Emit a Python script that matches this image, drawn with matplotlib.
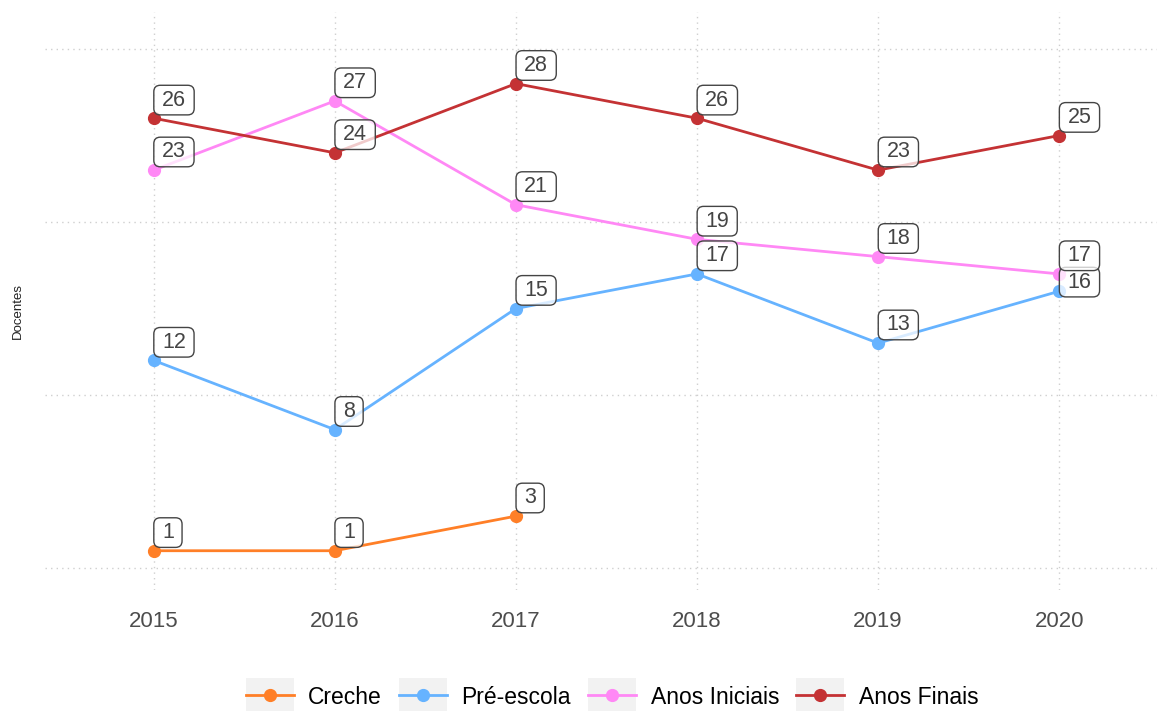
import numpy as np
import matplotlib
matplotlib.use('Agg')
import matplotlib.pyplot as plt
from matplotlib.legend_handler import HandlerLine2D
from matplotlib.patches import Rectangle, BoxStyle

plt.rcParams['font.family'] = ['Liberation Sans', 'DejaVu Sans']

# Teachers per stage, by year (NaN = no teachers that year)
years = [2015, 2016, 2017, 2018, 2019, 2020]
creche = [1, 1, 3, np.nan, np.nan, np.nan]
pre_escola = [12, 8, 15, 17, 13, 16]
anos_iniciais = [23, 27, 21, 19, 18, 17]
anos_finais = [26, 24, 28, 26, 23, 25]

series_names = ['Creche', 'Pré-escola', 'Anos Iniciais', 'Anos Finais']
series_values = [creche, pre_escola, anos_iniciais, anos_finais]
colors = ['#ff7f27', '#66b3ff', '#ff88f5', '#c43234']

# label offsets (points) where the default spot would overlap
label_nudge = {('Pré-escola', 2020): (6, -1)}


class RoundXY:
    # rounded label box with separate horizontal / vertical padding
    def __init__(self, padx=0.38, pady=0.2, rounding=0.3):
        self.padx, self.pady = padx, pady
        self.inner = BoxStyle.Round(pad=0, rounding_size=rounding)

    def __call__(self, x0, y0, width, height, mutation_size):
        px = self.padx * mutation_size
        py = self.pady * mutation_size
        return self.inner(x0 - px, y0 - py, width + 2 * px, height + 2 * py,
                          mutation_size)


class HandlerKeyBg(HandlerLine2D):
    # legend key with a light grey background square, ggplot style
    def create_artists(self, legend, orig_handle, xdescent, ydescent,
                       width, height, fontsize, trans):
        bg = Rectangle((-xdescent, -ydescent - 0.5 * height), width, 2 * height,
                       facecolor='#f2f2f2', edgecolor='none', transform=trans)
        artists = super().create_artists(legend, orig_handle, xdescent, ydescent,
                                         width, height, fontsize, trans)
        return [bg] + artists


fig = plt.figure(figsize=(11.57, 7.11), dpi=100)
ax = fig.add_axes([45 / 1157, 1 - 590 / 711, 1112 / 1157, 578 / 711])

for name, vals, col in zip(series_names, series_values, colors):
    ax.plot(years, vals, color=col, lw=2.0, marker='o', ms=8.5,
            label=name, zorder=3)

for name, vals, col in zip(series_names, series_values, colors):
    for x, v in zip(years, vals):
        if np.isnan(v):
            continue
        dx, dy = label_nudge.get((name, x), (6, 5.5))
        ax.annotate(f'{int(v)}', (x, v), xytext=(dx, dy),
                    textcoords='offset points', ha='left', va='bottom',
                    fontsize=15.5, color='#444444', zorder=4,
                    bbox=dict(boxstyle=RoundXY(), fc=(1, 1, 1, 0.75),
                              ec='#444444', lw=1.0))

ax.set_xlim(2014.4, 2020.54)
ax.set_ylim(-1.27, 32.14)
ax.set_xticks(years)
ax.set_yticks([0, 10, 20, 30])
ax.set_yticklabels([])
ax.tick_params(axis='both', length=0)
ax.tick_params(axis='x', labelsize=16, labelcolor='#4d4d4d', pad=15)
ax.grid(True, linestyle=(0, (1, 3)), color='#cfcfcf', lw=1.0)
ax.set_axisbelow(True)
for s in ax.spines.values():
    s.set_visible(False)

fig.text(18 / 1157, 1 - 311 / 711, 'Docentes', rotation=90,
         ha='center', va='center', fontsize=9.5, color='#222222')

handles, labels = ax.get_legend_handles_labels()
fig.legend(handles, labels, loc='lower center', bbox_to_anchor=(0.529, 0.003),
           ncol=4, frameon=False, fontsize=16.5, handlelength=2.1,
           handleheight=0.82, handletextpad=0.62, columnspacing=0.75,
           borderpad=0, borderaxespad=0,
           handler_map={plt.Line2D: HandlerKeyBg()})

fig.savefig('out.png', dpi=100)
